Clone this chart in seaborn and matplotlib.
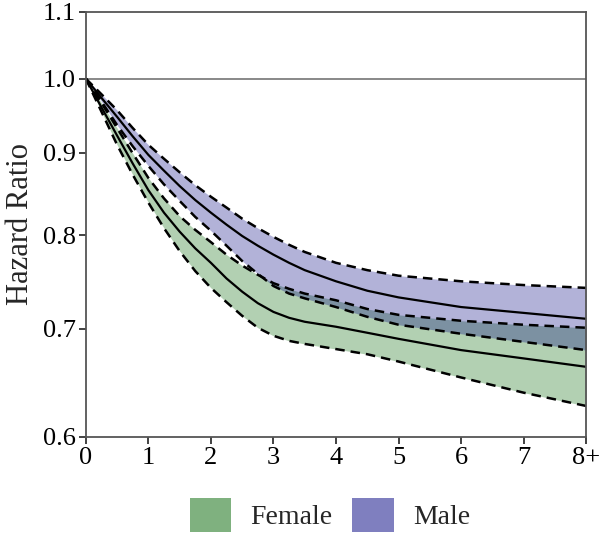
import numpy as np
import pandas as pd
import matplotlib
matplotlib.use("Agg")
import matplotlib.pyplot as plt
import seaborn as sns
from matplotlib.patches import Patch
from matplotlib.ticker import FixedLocator, FixedFormatter, NullLocator

# years since ... (last point is "8+")
years = [0, 0.25, 0.5, 0.75, 1, 1.25, 1.5, 1.75, 2, 2.25, 2.5, 2.75,
         3, 3.25, 3.5, 4, 4.5, 5, 6, 7, 8]

male_mean = [1.0, 0.973, 0.947, 0.921, 0.897, 0.877, 0.858, 0.841, 0.826, 0.812,
             0.799, 0.788, 0.778, 0.769, 0.761, 0.749, 0.739, 0.732, 0.722, 0.716, 0.710]
male_upper = [1.0, 0.978, 0.956, 0.932, 0.910, 0.892, 0.875, 0.859, 0.845, 0.832,
              0.819, 0.808, 0.798, 0.789, 0.781, 0.769, 0.761, 0.755, 0.749, 0.745, 0.742]
male_lower = [1.0, 0.968, 0.936, 0.908, 0.883, 0.860, 0.840, 0.821, 0.805, 0.788,
              0.771, 0.757, 0.744, 0.736, 0.731, 0.722, 0.712, 0.704, 0.695, 0.687, 0.679]

female_mean = [1.0, 0.960, 0.922, 0.886, 0.853, 0.826, 0.804, 0.785, 0.769, 0.752,
               0.738, 0.726, 0.717, 0.711, 0.707, 0.702, 0.696, 0.690, 0.679, 0.671, 0.663]
female_upper = [1.0, 0.966, 0.932, 0.899, 0.868, 0.843, 0.822, 0.806, 0.792, 0.778,
                0.766, 0.756, 0.747, 0.741, 0.736, 0.729, 0.720, 0.714, 0.708, 0.704, 0.701]
female_lower = [1.0, 0.954, 0.910, 0.872, 0.838, 0.808, 0.782, 0.760, 0.742, 0.727,
                0.713, 0.701, 0.693, 0.688, 0.685, 0.680, 0.675, 0.668, 0.653, 0.639, 0.627]

y_ticks = [0.6, 0.7, 0.8, 0.9, 1.0, 1.1]
x_ticks = [0, 1, 2, 3, 4, 5, 6, 7, 8]
x_labels = ["0", "1", "2", "3", "4", "5", "6", "7", "8+"]

sexes = ["Female", "Male"]
colors = {"Female": "#006400", "Male": "#000080"}

df = pd.concat([
    pd.DataFrame({"year": years, "mean": female_mean, "lower": female_lower,
                  "upper": female_upper, "sex": "Female"}),
    pd.DataFrame({"year": years, "mean": male_mean, "lower": male_lower,
                  "upper": male_upper, "sex": "Male"}),
])

sns.set_theme(style="white")
plt.rcParams["font.family"] = ["Liberation Serif", "DejaVu Serif"]

fig = plt.figure(figsize=(6, 5.36), dpi=100)
ax = fig.add_axes([0.143, 0.185, 0.834, 0.793])

for sex in sexes:
    d = df[df["sex"] == sex]
    ax.fill_between(d["year"], d["lower"], d["upper"], color=colors[sex],
                    alpha=0.3, linewidth=0)

ax.axhline(1.0, color="#7f7f7f", linewidth=1.3, zorder=1)

for sex in sexes:
    d = df[df["sex"] == sex]
    sns.lineplot(data=d, x="year", y="mean", ax=ax, color="black",
                 linewidth=1.6, legend=False)
    for col in ["lower", "upper"]:
        sns.lineplot(data=d, x="year", y=col, ax=ax, color="black",
                     linewidth=1.8, linestyle=(0, (3.8, 2.4)), legend=False)

ax.set_yscale("log")
ax.set_xlim(0, 8)
ax.set_ylim(0.6, 1.1)
ax.yaxis.set_major_locator(FixedLocator(y_ticks))
ax.yaxis.set_major_formatter(FixedFormatter([f"{v:.1f}" for v in y_ticks]))
ax.yaxis.set_minor_locator(NullLocator())
ax.set_xticks(x_ticks)
ax.set_xticklabels(x_labels)

ax.tick_params(axis="both", which="major", direction="out", length=5,
               width=1.3, color="#333333", labelsize=19, labelcolor="black",
               left=True, bottom=True, pad=2)
for s in ax.spines.values():
    s.set_color("#555555")
    s.set_linewidth(1.3)

ax.set_xlabel("")
ax.set_ylabel("Hazard Ratio", fontsize=22, labelpad=6)

handles = [Patch(facecolor=colors[s], alpha=0.5, edgecolor="none", label=s)
           for s in sexes]
fig.legend(handles=handles, loc="center", bbox_to_anchor=(0.55, 0.04),
           ncol=2, frameon=False, fontsize=20, handlelength=1.5,
           handleheight=1.5, handletextpad=0.7, columnspacing=0.7)

fig.savefig("out.png", dpi=100)
